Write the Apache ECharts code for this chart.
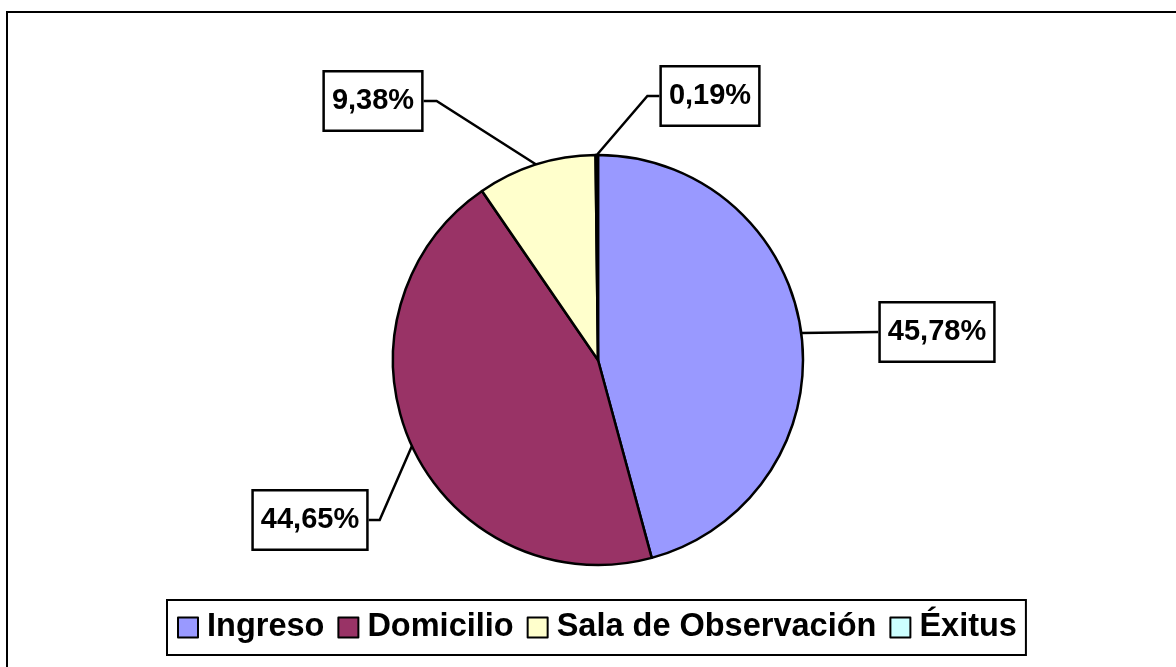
<!DOCTYPE html>
<html>
<head>
<meta charset="utf-8">
<title>Destino de los pacientes</title>
<script src="https://cdn.jsdelivr.net/npm/echarts@6/dist/echarts.min.js"></script>
<style>
  html, body { margin: 0; padding: 0; background: #fff; }
  #chart { width: 1176px; height: 667px; }
</style>
</head>
<body>
<div id="chart"></div>
<script>
// Destinations and their shares (%)
const categories = ['Ingreso', 'Domicilio', 'Sala de Observación', 'Éxitus'];
const shares = [45.78, 44.65, 9.38, 0.19];
const sliceColors = ['#9999FF', '#993366', '#FFFFCC', '#CCFFFF'];

// Callout boxes: centre of each box and the short horizontal run before it
const calloutCenters = [[937, 332], [310, 520], [373, 101], [710, 96]];
const calloutRun = [0, 11, 13, 12];

const FONT = '"Liberation Sans", Arial, Helvetica, sans-serif';
const PIE_CX = 598, PIE_CY = 360, PIE_R = 205;

const fmt = v => v.toFixed(2).replace('.', ',') + '%';

const chart = echarts.init(document.getElementById('chart'), null, { renderer: 'canvas' });

chart.setOption({
  backgroundColor: '#ffffff',
  animation: false,
  graphic: [{
    type: 'rect',
    silent: true,
    z: -1,
    shape: { x: 7, y: 12, width: 1220, height: 720 },
    style: { fill: 'none', stroke: '#000', lineWidth: 2 }
  }],
  legend: {
    data: categories,
    left: 167,
    top: 600,
    orient: 'horizontal',
    padding: [11, 9, 11, 10],
    itemGap: 13,
    itemWidth: 20,
    itemHeight: 20,
    icon: 'rect',
    borderColor: '#000',
    borderWidth: 2,
    backgroundColor: '#fff',
    selectedMode: false,
    itemStyle: { borderColor: '#000', borderWidth: 2 },
    textStyle: {
      color: '#000',
      fontFamily: FONT,
      fontWeight: 'bold',
      fontSize: 32.5,
      padding: [0, 0, 0, 4]
    }
  },
  series: [{
    type: 'pie',
    center: [PIE_CX, PIE_CY],
    radius: PIE_R,
    startAngle: 90,
    clockwise: true,
    avoidLabelOverlap: false,
    silent: true,
    data: categories.map((name, i) => ({
      name,
      value: shares[i],
      itemStyle: { color: sliceColors[i] }
    })),
    itemStyle: { borderColor: '#000', borderWidth: 2.5 },
    emphasis: { disabled: true },
    label: {
      show: true,
      position: 'outside',
      formatter: p => fmt(p.value),
      color: '#000',
      fontFamily: FONT,
      fontWeight: 'bold',
      fontSize: 29,
      lineHeight: 33,
      backgroundColor: '#fff',
      borderColor: '#000',
      borderWidth: 2.5,
      padding: [12, 7]
    },
    labelLine: {
      show: true,
      length: 20,
      length2: 10,
      lineStyle: { color: '#000', width: 2.5 }
    },
    labelLayout: function (params) {
      const i = params.dataIndex;
      const c = calloutCenters[i];
      const halfW = params.labelRect.width / 2;
      const onRight = c[0] > PIE_CX;
      const edgeX = onRight ? c[0] - halfW : c[0] + halfW;
      const elbowX = onRight ? edgeX - calloutRun[i] : edgeX + calloutRun[i];
      const start = params.labelLinePoints ? params.labelLinePoints[0] : [edgeX, c[1]];
      return {
        x: c[0],
        y: c[1],
        align: 'center',
        verticalAlign: 'middle',
        labelLinePoints: [start, [elbowX, c[1]], [edgeX, c[1]]]
      };
    }
  }]
});
</script>
</body>
</html>
